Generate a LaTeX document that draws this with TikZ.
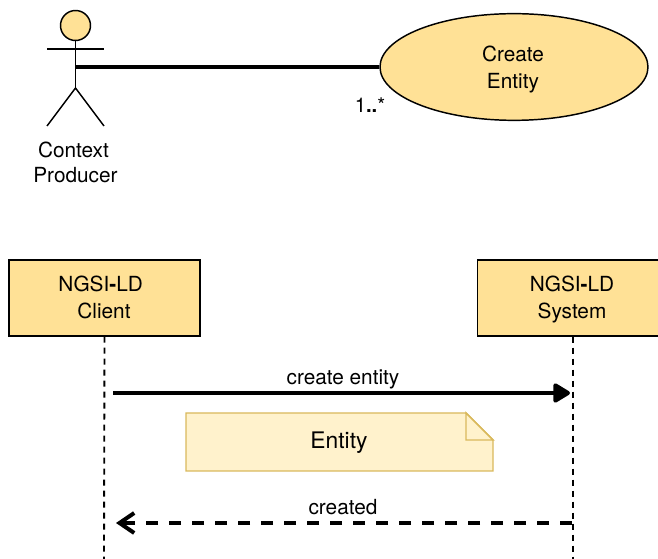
\documentclass[tikz,border=0pt]{standalone}
\usepackage{fontspec}
\setmainfont{TeX Gyre Heros}
\usetikzlibrary{arrows.meta,shapes.geometric}
\definecolor{boxfill}{HTML}{FFE196}
\definecolor{notefill}{HTML}{FFF2CC}
\definecolor{notedraw}{HTML}{D9B95C}
\newcommand{\pxs}[1]{\fontsize{#1}{20.2pt}\selectfont}
\newcommand{\pxa}[1]{\fontsize{#1}{18.75pt}\selectfont}
\tikzset{
  x=0.75pt, y=-0.75pt,
  thinline/.style={line width=1.1pt, black},
  label/.style={inner sep=0pt, font=\pxs{15.6pt}, align=center, text=black},
  usecase/.style={ellipse, draw=black, fill=boxfill, line width=1.1pt, minimum width=201pt, minimum height=80pt, inner sep=0pt},
  lifebox/.style={rectangle, draw=black, fill=boxfill, line width=1.1pt, minimum width=143.25pt, minimum height=57pt, inner sep=0pt},
  lifeline/.style={line width=1.4pt, black, dash pattern=on 4.5pt off 3.75pt},
  msg/.style={line width=3pt, black, -{Triangle[length=14pt,width=16pt,round]}},
  reply/.style={line width=3pt, black, dash pattern=on 9pt off 8.25pt, -{Straight Barb[length=11pt,width=15pt,line width=3pt]}},
  notebody/.style={draw=notedraw, fill=notefill, line width=1.1pt, line join=miter},
}
\begin{document}
\begin{tikzpicture}
\useasboundingbox (0,0) rectangle (658,559);
\clip (0,0) rectangle (658,559);
% actor
\node (head) [circle, draw=black, fill=boxfill, line width=1.1pt, minimum size=22.5pt, inner sep=0pt] at (75.5,25.5) {};
\coordinate (hip) at (75.5,88);
\coordinate (armL) at (47,49);
\coordinate (armR) at (104,49);
\coordinate (footL) at (47,126);
\coordinate (footR) at (104,126);
\coordinate (attach) at (76,67);
\draw[thinline] (head.south) -- (hip);
\draw[thinline] (armL) -- (armR);
\draw[thinline] (footL) -- (hip) -- (footR);
\node (actorname) [label, font=\pxa{15.6pt}] at (75.5,162) {Context\hspace*{3pt}\\Producer};
% use case
\node (create) [usecase] at (514,67) {};
\node (createText) [label] at (513,69.5) {\strut Create\\\strut Entity};
\draw[line width=3pt, black] (attach) -- (create.west);
\node (mult) [label, font=\pxs{15.2pt}] at (370,105.5) {1{\bfseries ..}*};
% lifelines
\node (client) [lifebox] at (104.5,298) {};
\node (clientText) [label] at (104,300) {\strut NGSI{\bfseries -}LD\hspace*{5pt}\\\strut Client};
\node (system) [lifebox] at (573,298) {};
\node (systemText) [label] at (572,300) {\strut NGSI{\bfseries -}LD\\\strut System};
\coordinate (clientEnd) at (104,559);
\coordinate (systemEnd) at (573,559);
\draw[lifeline] (client.south) -- (clientEnd);
\draw[lifeline] (system.south) -- (systemEnd);
% messages
\coordinate (msgStart) at (113,393);
\coordinate (msgEnd) at (570,393);
\draw[msg] (msgStart) -- (msgEnd);
\node (msgLabel) [label] at (343,379) {create entity};
\coordinate (repStart) at (572,523);
\coordinate (repEnd) at (116,523);
\draw[reply] (repStart) -- (repEnd);
\node (repLabel) [label] at (343,507) {created};
% note
\draw[notebody] (186,413) -- (466,413) -- (493,440) -- (493,471) -- (186,471) -- cycle;
\draw[notebody] (466,413) -- (466,440) -- (493,440) -- cycle;
\node (note) [label, font=\pxs{17.1pt}] at (339,443) {Entity};
\end{tikzpicture}
\end{document}
